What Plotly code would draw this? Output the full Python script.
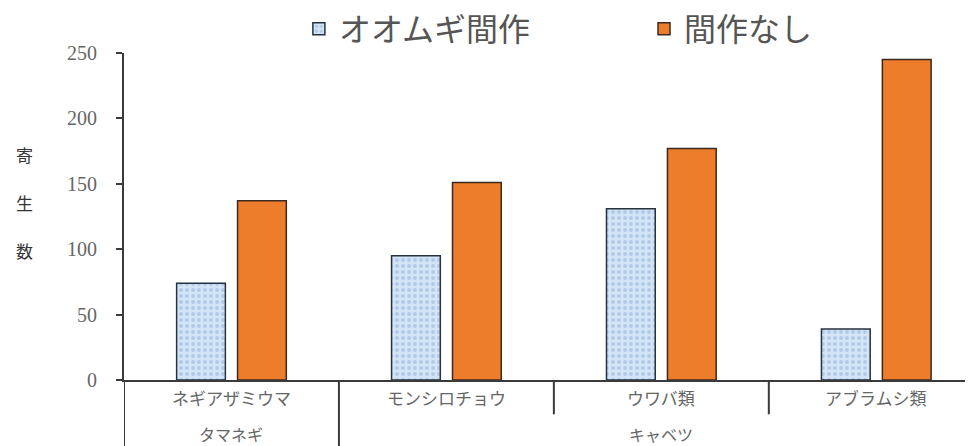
import plotly.graph_objects as go

# ---- data ----
pests = ["ネギアザミウマ", "モンシロチョウ", "ウワバ類", "アブラムシ類"]
crops = ["タマネギ", "キャベツ", "キャベツ", "キャベツ"]
intercrop = [74, 95, 131, 39]       # オオムギ間作
no_intercrop = [137, 151, 177, 245]  # 間作なし
series_names = ["オオムギ間作", "間作なし"]
y_ticks = [0, 50, 100, 150, 200, 250]
y_title = "寄生数"

JP = "Noto Sans CJK JP"
SERIF = "Liberation Serif, Noto Sans CJK JP"
AXIS = "#3a3a3a"

# the page body adds an 8px offset; the figure is sized to fit the window
W, H = 965, 438

fig = go.Figure()
fig.add_trace(go.Bar(
    x=pests, y=intercrop, name=series_names[0], legend="legend",
    marker=dict(color="#cddff3",
                line=dict(color="#26323f", width=1.5),
                pattern=dict(shape=".", fgcolor="#8fb0d8", bgcolor="#d3e4f6",
                             size=6, solidity=0.35)),
))
fig.add_trace(go.Bar(
    x=pests, y=no_intercrop, name=series_names[1], legend="legend2",
    marker=dict(color="#ee7d2b", line=dict(color="#3a2a20", width=1.5)),
))

# x category labels (two levels)
annotations = []
for p in pests:
    annotations.append(dict(x=p, y=0, xref="x", yref="paper", yshift=-17,
                            text=p, showarrow=False, yanchor="middle",
                            font=dict(family=JP, size=17, color="#666666")))
# parent groups
groups = []
for i, c in enumerate(crops):
    if groups and groups[-1][0] == c:
        groups[-1][2] = i
    else:
        groups.append([c, i, i])
shapes = []
for c, s, e in groups:
    annotations.append(dict(x=(s + e) / 2, y=0, xref="x", yref="paper", yshift=-54,
                            text=c, showarrow=False, yanchor="middle",
                            font=dict(family=JP, size=16, color="#666666")))
    shapes.append(dict(type="line", xref="x", yref="paper", x0=s - 0.5, x1=s - 0.5,
                       y0=0, y1=-0.23, line=dict(color=AXIS, width=2)))
for c, s, e in groups:
    for i in range(s + 1, e + 1):
        shapes.append(dict(type="line", xref="x", yref="paper", x0=i - 0.5, x1=i - 0.5,
                           y0=0, y1=-0.105, line=dict(color=AXIS, width=2)))

# y axis title, stacked vertically
for k, ch in enumerate(y_title):
    annotations.append(dict(x=-0.117, y=0.543, xref="paper", yref="paper",
                            yshift=48 * (1 - k),
                            text=ch, showarrow=False,
                            font=dict(family=JP, size=17, color="#333333"),
                            xanchor="center", yanchor="middle"))

legend_style = dict(orientation="h", xanchor="left",
                    y=1 - 21 / H, yanchor="middle", yref="container",
                    font=dict(family=JP, size=32, color="#555555"),
                    bgcolor="rgba(0,0,0,0)", borderwidth=0)

fig.update_layout(
    width=W, height=H,
    margin=dict(l=116, r=0, t=45, b=66, autoexpand=False),
    paper_bgcolor="white", plot_bgcolor="white",
    barmode="group", bargap=0.433, bargroupgap=0.2,
    showlegend=True,
    legend=dict(x=0.206, **legend_style),
    legend2=dict(x=0.6125, **legend_style),
    annotations=annotations,
    shapes=shapes,
    xaxis=dict(range=[-0.5, 3.45], showticklabels=False, ticks="",
               showline=True, linecolor=AXIS, linewidth=2, showgrid=False,
               zeroline=False, fixedrange=True),
    yaxis=dict(range=[0, 250], tickvals=y_ticks, ticks="outside", ticklen=6,
               tickcolor=AXIS, tickwidth=1.5,
               showline=True, linecolor=AXIS, linewidth=2, showgrid=False,
               zeroline=False, ticklabelstandoff=15,
               tickfont=dict(family=SERIF, size=20, color="#666666")),
)

fig.write_html("out.html")
